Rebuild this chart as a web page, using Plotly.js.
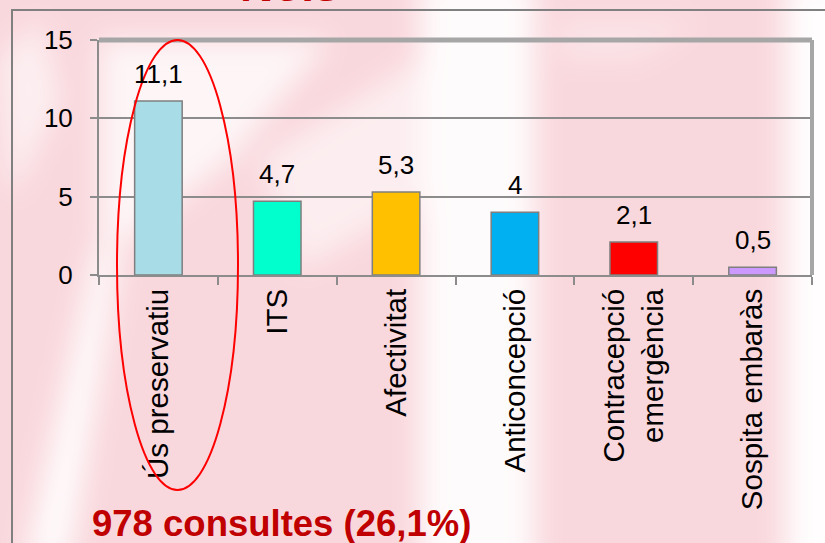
<!DOCTYPE html>
<html>
<head>
<meta charset="utf-8">
<script src="https://cdn.plot.ly/plotly-3.0.1.min.js"></script>
<style>html,body{margin:0;padding:0;}#chart{width:825px;height:543px;}</style>
</head>
<body>
<div id="chart"></div>
<script>
const categories = ['Ús preservatiu', 'ITS', 'Afectivitat', 'Anticoncepció', 'Contracepció<br>emergència', 'Sospita embaràs'];
const values = [11.1, 4.7, 5.3, 4, 2.1, 0.5];
const barColors = ['#a8dde7', '#00ffcc', '#ffc000', '#00b0f0', '#ff0000', '#cc99ff'];
const yTicks = [0, 5, 10, 15];
const chartTitle = 'Nois';
const footnote = '978 consultes (26,1%)';

const bgSvg = `<svg xmlns='http://www.w3.org/2000/svg' width='825' height='543'>
<defs><filter id='b' x='-50%' y='-50%' width='200%' height='200%'><feGaussianBlur stdDeviation='14'/></filter></defs>
<rect width='825' height='543' fill='#f9d8dd'/>
<g filter='url(#b)' fill='#ffffff'>
<rect x='420' y='-20' width='115' height='600' opacity='0.9'/>
<rect x='785' y='-20' width='80' height='600' opacity='0.95'/>
<polygon points='25,560 70,560 120,250 95,250' opacity='0.9'/>
<polygon points='100,40 330,40 230,160 100,260' opacity='0.75'/>
<polygon points='260,160 420,60 420,200 300,270' opacity='0.55'/>
<polygon points='0,60 40,20 60,100 10,200' opacity='0.6'/>
<polygon points='560,20 700,20 640,60 560,60' opacity='0.3'/>
</g>
</svg>`;
const bgUri = 'data:image/svg+xml;charset=utf-8,' + encodeURIComponent(bgSvg);

const W = 825, H = 543, ml = 99, mr = 13, mt = 40, mb = 268;
const pw = W - ml - mr, ph = H - mt - mb;
const px = x => (x - ml) / pw;
const py = y => (H - mb - y) / ph;

const trace = {
  type: 'bar',
  x: categories,
  y: values,
  marker: {
    color: barColors,
    line: {color: '#7f7f7f', width: 1.5}
  },
  hoverinfo: 'skip'
};

const annotations = categories.map((c, i) => ({
  x: c, y: values[i], xref: 'x', yref: 'y',
  text: String(values[i]).replace('.', ','),
  showarrow: false, yanchor: 'bottom', yshift: 10,
  font: {family: 'Liberation Sans, Arial, sans-serif', size: 26, color: '#000000'}
}));
annotations.push({
  x: px(290), y: py(-15), xref: 'paper', yref: 'paper',
  text: '<b>' + chartTitle + '</b>', showarrow: false, xanchor: 'center', yanchor: 'middle',
  font: {family: 'Liberation Sans, Arial, sans-serif', size: 46, color: '#c00000'}
});
annotations.push({
  x: px(90), y: py(523), xref: 'paper', yref: 'paper',
  text: '<b>' + footnote + '</b>', showarrow: false, xanchor: 'left', yanchor: 'middle',
  font: {family: 'Liberation Sans, Arial, sans-serif', size: 36.5, color: '#c00000'}
});

const shapes = [
  {type: 'rect', xref: 'paper', yref: 'paper', x0: px(12), x1: px(840), y0: py(560), y1: py(10),
   line: {color: '#808080', width: 2}, fillcolor: 'rgba(0,0,0,0)', layer: 'below'},
  {type: 'line', xref: 'paper', yref: 'paper', x0: 0, x1: 1, y0: 1, y1: 1,
   line: {color: '#a6a6a6', width: 5}},
  {type: 'line', xref: 'paper', yref: 'paper', x0: 1, x1: 1, y0: 0, y1: 1,
   line: {color: '#a6a6a6', width: 4}},
  {type: 'circle', xref: 'paper', yref: 'paper', x0: px(117), x1: px(238), y0: py(490), y1: py(40),
   line: {color: '#ff0000', width: 2}, fillcolor: 'rgba(0,0,0,0)'}
];

const layout = {
  width: W, height: H,
  margin: {l: ml, r: mr, t: mt, b: mb, pad: 0},
  paper_bgcolor: '#f9d8dd',
  plot_bgcolor: 'rgba(0,0,0,0)',
  showlegend: false,
  bargap: 0.6,
  font: {family: 'Liberation Sans, Arial, sans-serif', size: 26, color: '#000000'},
  images: [{source: bgUri, xref: 'paper', yref: 'paper', x: px(0), y: py(0),
            sizex: W / pw, sizey: H / ph, xanchor: 'left', yanchor: 'top',
            sizing: 'stretch', layer: 'below'}],
  xaxis: {
    type: 'category',
    tickangle: -90,
    ticks: 'outside', tickson: 'boundaries', ticklen: 8, tickwidth: 2, tickcolor: '#8c8c8c',
    showline: true, linecolor: '#8c8c8c', linewidth: 2,
    showgrid: false, zeroline: false,
    tickfont: {family: 'Liberation Sans, Arial, sans-serif', size: 29.5, color: '#000000'},
    fixedrange: true
  },
  yaxis: {
    range: [0, 15],
    tickvals: yTicks,
    ticktext: yTicks.map(String),
    ticks: 'outside', ticklen: 7, tickwidth: 2, tickcolor: '#8c8c8c',
    showline: true, linecolor: '#8c8c8c', linewidth: 2,
    showgrid: true, gridcolor: '#8c8c8c', gridwidth: 2,
    zeroline: false,
    ticklabelstandoff: 12,
    tickfont: {family: 'Liberation Sans, Arial, sans-serif', size: 26, color: '#000000'},
    fixedrange: true
  },
  annotations: annotations,
  shapes: shapes
};

Plotly.newPlot('chart', [trace], layout, {displayModeBar: false, staticPlot: true});
</script>
</body>
</html>
